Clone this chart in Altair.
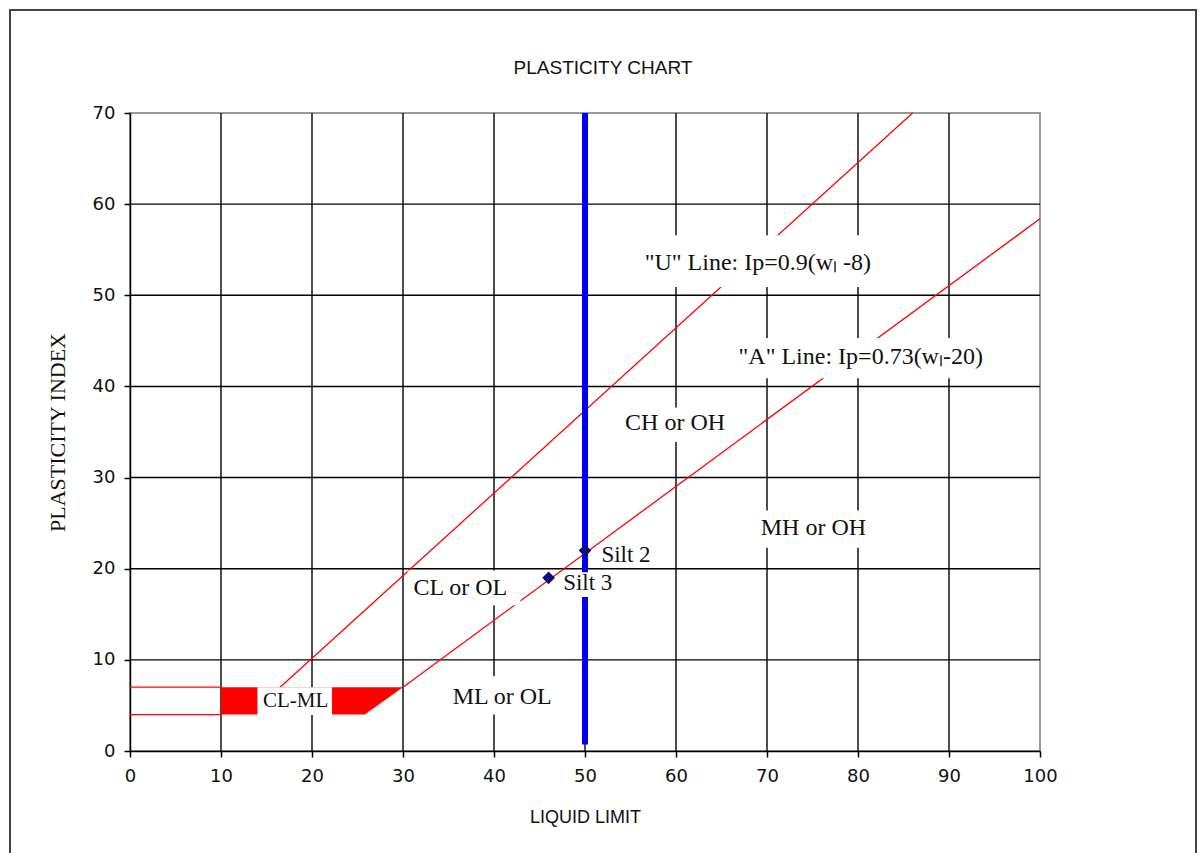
import altair as alt
import pandas as pd

# ---- data ----
grid_ll = [10, 20, 30, 40, 50, 60, 70, 80, 90]
grid_ip = [10, 20, 30, 40, 50, 60]

# "U" and "A" lines (end points)
u_ll = [16.5, 86.0]
u_ip = [7.0, 70.0]
a_ll = [30.0, 100.0]
a_ip = [7.0, 58.4]

# CL-ML filled zone between Ip=4 and Ip=7 up to the A line
zone_ll = [10.0, 25.8, 30.0]
zone_top = [7.0, 7.0, 7.0]
zone_bot = [4.0, 4.0, 7.0]

# thin horizontal limits left of LL=10
hlim_ip = [4.0, 7.0]
hlim_ll1 = [0.0, 0.0]
hlim_ll2 = [10.0, 10.0]

# blue vertical line LL=50
blue_ll = [50.0]
blue_ip1 = [0.7]
blue_ip2 = [70.0]

# samples
pt_name = ["Silt 2", "Silt 3"]
pt_ll = [50.0, 46.0]
pt_ip = [22.0, 19.0]

# region labels
lab_text = ['"U" Line: Ip=0.9(wₗ -8)', '"A" Line: Ip=0.73(wₗ-20)', "CH or OH",
            "MH or OH", "CL or OL", "ML or OL"]
lab_ll = [69.0, 80.3, 59.9, 75.1, 36.3, 40.9]
lab_ip = [53.5, 43.2, 36.0, 24.5, 17.9, 5.9]

clml_text = ["CL-ML"]
clml_ll = [18.2]
clml_ip = [5.5]

silt_text = ["Silt 2", "Silt 3"]
silt_ll = [51.8, 47.6]
silt_ip = [21.5, 18.4]

# white label boxes (data units)
box_ll1 = [55.7, 65.7, 53.3, 67.9, 30.5, 35.2, 14.0, 47.5]
box_ll2 = [82.7, 95.1, 66.5, 82.2, 42.9, 47.8, 22.2, 53.8]
box_ip1 = [50.9, 40.9, 33.9, 22.3, 16.0, 4.0, 3.95, 16.9]
box_ip2 = [56.6, 45.3, 37.7, 26.4, 19.8, 8.2, 7.0, 19.6]

x_ticks = [0, 10, 20, 30, 40, 50, 60, 70, 80, 90, 100]
y_ticks = [0, 10, 20, 30, 40, 50, 60, 70]

chart_title = ["PLASTICITY CHART"]

# ---- chart ----
xs = alt.Scale(domain=[0, 100], nice=False, zero=False)
ys = alt.Scale(domain=[0, 70], nice=False, zero=False)
xa = alt.Axis(values=x_ticks, grid=False, title="LIQUID LIMIT", labelFlush=False,
              titleFont="Liberation Sans", titleFontSize=18, titleFontWeight="normal",
              titleColor="#111111", titleX=455, titleY=66, titleBaseline="middle",
              titleAlign="center", labelPadding=10)
ya = alt.Axis(values=y_ticks, grid=False, title="PLASTICITY INDEX", labelFlush=False,
              titleFont="Liberation Serif", titleFontSize=22, titleFontWeight="normal",
              titleColor="#111111", titleAngle=270, titleX=-73, titleY=319,
              titleBaseline="middle", titleAlign="center", labelPadding=9)


def X(f="LL"):
    return alt.X(f"{f}:Q", scale=xs, axis=xa)


def Y(f="IP"):
    return alt.Y(f"{f}:Q", scale=ys, axis=ya)


frame = alt.Chart(alt.Data(values=[{}])).mark_rect(
    fill=None, stroke="#444444", strokeWidth=2, clip=False
).encode(x=alt.value(-120), x2=alt.value(1066), y=alt.value(-103), y2=alt.value(760))

title = alt.Chart(pd.DataFrame({"t": chart_title})).mark_text(
    font="Liberation Sans", fontSize=19, color="#111111", align="center", baseline="middle"
).encode(x=alt.value(473), y=alt.value(-45), text="t:N")

gx = alt.Chart(pd.DataFrame({"LL": grid_ll})).mark_rule(color="black", strokeWidth=1.4).encode(x=X())
gy = alt.Chart(pd.DataFrame({"IP": grid_ip})).mark_rule(color="black", strokeWidth=1.4).encode(y=Y())

zone = alt.Chart(pd.DataFrame({"LL": zone_ll, "IP": zone_top, "IP2": zone_bot})).mark_area(
    color="#ff0000", opacity=1
).encode(x=X(), y=Y(), y2="IP2:Q")

hlim = alt.Chart(pd.DataFrame({"IP": hlim_ip, "LL": hlim_ll1, "LL2": hlim_ll2})).mark_rule(
    color="#ff0000", strokeWidth=1.3
).encode(x=X(), x2="LL2:Q", y=Y())

lines_df = pd.DataFrame({
    "line": ["U"] * len(u_ll) + ["A"] * len(a_ll),
    "LL": u_ll + a_ll,
    "IP": u_ip + a_ip,
})
lines = alt.Chart(lines_df).mark_line(color="#ff0000", strokeWidth=1.3).encode(
    x=X(), y=Y(), detail="line:N"
)

blue = alt.Chart(pd.DataFrame({"LL": blue_ll, "IP": blue_ip1, "IP2": blue_ip2})).mark_rule(
    color="#0000ee", strokeWidth=6
).encode(x=X(), y=Y(), y2="IP2:Q")

boxes = alt.Chart(pd.DataFrame({"LL": box_ll1, "LL2": box_ll2, "IP": box_ip1, "IP2": box_ip2})).mark_rect(
    fill="white", stroke=None
).encode(x=X(), x2="LL2:Q", y=Y(), y2="IP2:Q")

labels = alt.Chart(pd.DataFrame({"t": lab_text, "LL": lab_ll, "IP": lab_ip})).mark_text(
    font="Liberation Serif", fontSize=24, color="#111111", align="center", baseline="middle"
).encode(x=X(), y=Y(), text="t:N")

clml = alt.Chart(pd.DataFrame({"t": clml_text, "LL": clml_ll, "IP": clml_ip})).mark_text(
    font="Liberation Serif", fontSize=21, color="#111111", align="center", baseline="middle"
).encode(x=X(), y=Y(), text="t:N")

silt = alt.Chart(pd.DataFrame({"t": silt_text, "LL": silt_ll, "IP": silt_ip})).mark_text(
    font="Liberation Serif", fontSize=23, color="#111111", align="left", baseline="middle"
).encode(x=X(), y=Y(), text="t:N")

pts = alt.Chart(pd.DataFrame({"name": pt_name, "LL": pt_ll, "IP": pt_ip})).mark_point(
    shape="diamond", filled=True, color="#0b0b80", size=160, opacity=1
).encode(x=X(), y=Y())

chart = alt.layer(
    frame, title, gx, gy, zone, hlim, lines, blue, boxes, labels, clml, silt, pts
).properties(
    width=910,
    height=638,
    padding={"left": 130, "top": 113, "right": 161, "bottom": 102},
    autosize=alt.AutoSizeParams(type="none"),
    background="white",
).configure_view(
    stroke="#999999", strokeWidth=2
).configure_axis(
    domainColor="black", domainWidth=1.5, tickColor="black", tickWidth=1.5, tickSize=6,
    labelFont="DejaVu Sans", labelFontSize=18, labelColor="#111111"
)

chart.save("out.html", embed_options={"renderer": "svg", "actions": False})
